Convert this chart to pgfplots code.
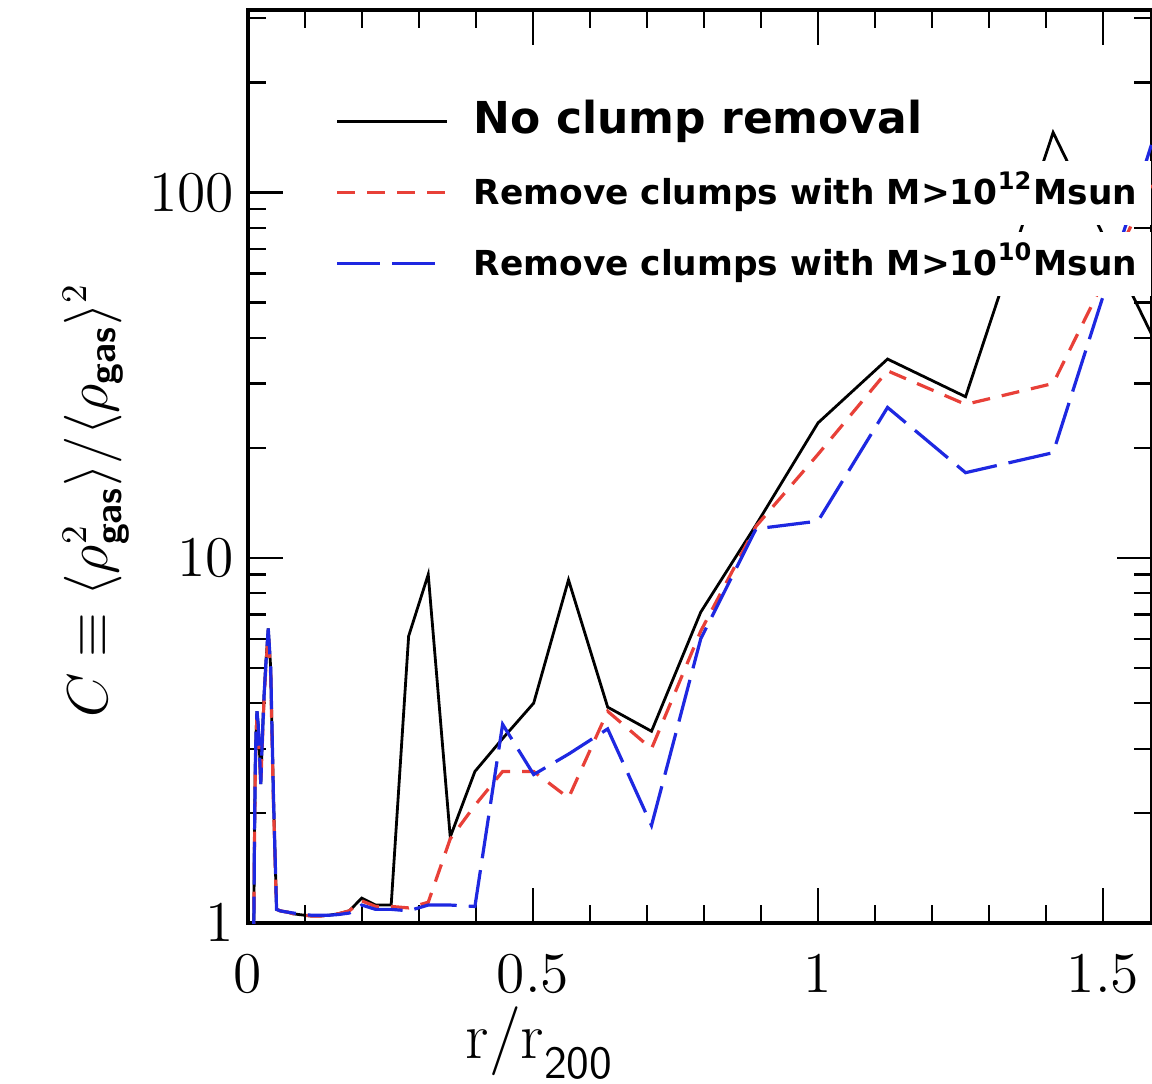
\documentclass[border=0pt]{standalone}
\usepackage{amsmath}
\usepackage{pgfplots}
\pgfplotsset{compat=1.18}
\usepackage{fontspec}
\newfontfamily\dvs{DejaVu Sans}
\definecolor{cred}{RGB}{232,64,56}
\definecolor{cblue}{RGB}{30,40,225}
\newcommand{\gas}{\text{\sffamily\bfseries gas}}
\begin{document}
\begin{tikzpicture}
\begin{axis}[
  scale only axis, width=226pt, height=228.25pt,
  at={(0,0)}, anchor=south west,
  xmin=0, xmax=1.586, ymode=log, ymin=1, ymax=316,
  xtick={0,0.5,1,1.5}, minor x tick num=4,
  log ticks with fixed point,
  tick align=inside,
  major tick length=8.75pt, minor tick length=4.5pt,
  every tick/.style={black, line width=0.6pt},
  axis line style={line width=1pt},
  tick label style={font=\fontsize{14}{16}\selectfont},
  xticklabel style={yshift=-4.5pt},
  xlabel={$\mathrm{r/r}_{\text{\sffamily 200}}$},
  xlabel style={at={([yshift=-17.5pt]rel axis cs:0.323,0)}, anchor=north, font=\fontsize{16.5}{18}\selectfont},
  ylabel={$C\equiv\langle\rho^2_{\gas}\rangle/\langle\rho_{\gas}\rangle^2$},
  ylabel style={at={([xshift=-38pt]rel axis cs:0,0.463)}, anchor=center, font=\fontsize{13.5}{15}\selectfont},
  legend cell align=left,
  legend image code/.code={\draw[#1] (0pt,0pt) -- (27.5pt,0pt);},
  legend style={draw=none, fill=none, inner sep=0pt, at={(rel axis cs:0.096,0.9135)}, anchor=north west,
    row sep=1.75pt, column sep=2.75pt,
    font=\dvs\bfseries\fontsize{8.6}{10}\selectfont,
    nodes={fill=white, inner xsep=3.5pt, inner ysep=0pt, text height=11pt, text depth=5pt}},
]
\addplot[black, line width=0.7pt] coordinates {
(0.0100,0.9) (0.0112,1.6) (0.0126,2.6) (0.0141,3.3) (0.0158,3.8) (0.0178,3.5) (0.0200,3.0) (0.0224,2.4)
(0.0251,3.2) (0.0282,4.2) (0.0316,5.2) (0.0355,6.4) (0.0398,5.0) (0.0447,2.2) (0.0501,1.09) (0.0562,1.08)
(0.0631,1.075) (0.0708,1.07) (0.0794,1.06) (0.0891,1.055) (0.1000,1.05) (0.1122,1.045) (0.1259,1.045)
(0.1413,1.05) (0.1585,1.06) (0.1778,1.08) (0.1995,1.17) (0.2239,1.12) (0.2512,1.12) (0.2818,6.1)
(0.3162,9.0) (0.3548,1.72) (0.3981,2.6) (0.4467,3.2) (0.5012,4.0) (0.5623,8.7) (0.6310,3.9) (0.7079,3.35)
(0.7943,7.1) (0.8913,12.3) (1.0000,23.4) (1.1220,35) (1.2589,27.6) (1.4125,146) (1.5849,41)
};
\addlegendentry{\fontsize{11}{13}\selectfont No clump removal}
\addplot[cred, line width=0.8pt, dash pattern=on 4.5pt off 3pt] coordinates {
(0.0100,0.9) (0.0112,1.5) (0.0126,2.5) (0.0141,3.2) (0.0158,3.7) (0.0178,3.4) (0.0200,2.9) (0.0224,2.4)
(0.0251,3.1) (0.0282,4.1) (0.0316,5.1) (0.0355,6.2) (0.0398,4.8) (0.0447,2.1) (0.0501,1.09) (0.0562,1.08)
(0.0631,1.075) (0.0708,1.07) (0.0794,1.06) (0.0891,1.055) (0.1000,1.05) (0.1122,1.045) (0.1259,1.045)
(0.1413,1.05) (0.1585,1.06) (0.1778,1.08) (0.1995,1.15) (0.2239,1.11) (0.2512,1.11) (0.2818,1.1)
(0.3162,1.14) (0.3548,1.7) (0.3981,2.1) (0.4467,2.6) (0.5012,2.6) (0.5623,2.2) (0.6310,3.8) (0.7079,3.0)
(0.7943,6.3) (0.8913,12.2) (1.0000,19.2) (1.1220,32.5) (1.2589,26.3) (1.4125,30) (1.5849,105)
};
\addlegendentry{Remove clumps with M>10\textsuperscript{12}Msun}
\addplot[cblue, line width=0.8pt, dash pattern=on 10.75pt off 3pt] coordinates {
(0.0100,0.9) (0.0112,1.6) (0.0126,2.6) (0.0141,3.3) (0.0158,3.8) (0.0178,3.5) (0.0200,3.0) (0.0224,2.4)
(0.0251,3.2) (0.0282,4.2) (0.0316,5.2) (0.0355,6.4) (0.0398,5.0) (0.0447,2.2) (0.0501,1.09) (0.0562,1.08)
(0.0631,1.075) (0.0708,1.07) (0.0794,1.065) (0.0891,1.06) (0.1000,1.055) (0.1122,1.05) (0.1259,1.05)
(0.1413,1.05) (0.1585,1.055) (0.1778,1.065) (0.1995,1.12) (0.2239,1.09) (0.2512,1.09) (0.2818,1.08)
(0.3162,1.12) (0.3548,1.12) (0.3981,1.11) (0.4467,3.5) (0.5012,2.55) (0.5623,2.9) (0.6310,3.4) (0.7079,1.85)
(0.7943,6.0) (0.8913,12.0) (1.0000,12.6) (1.1220,25.8) (1.2589,17.1) (1.4125,19.4) (1.5849,135)
};
\addlegendentry{Remove clumps with M>10\textsuperscript{10}Msun}
\end{axis}
\pgfresetboundingbox
\useasboundingbox (-62pt,-40pt) rectangle (226pt,230.75pt);
\end{tikzpicture}
\end{document}
